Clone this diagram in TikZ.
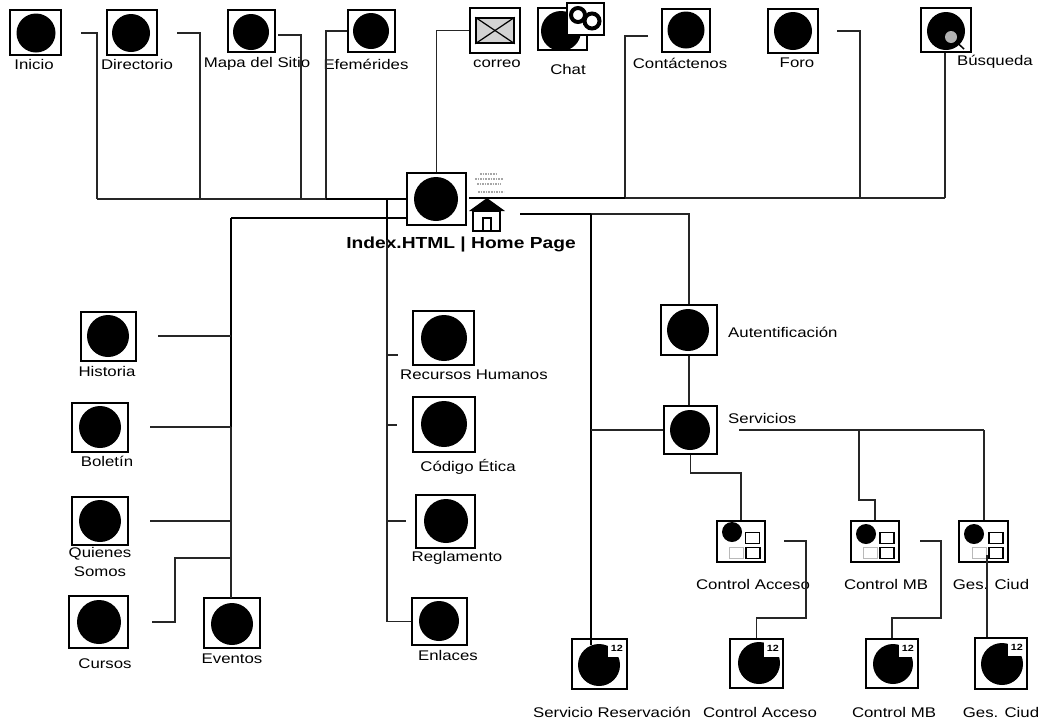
\documentclass[tikz,border=0pt]{standalone}
\usepackage{fontspec}
\setmainfont[FakeStretch=1.2]{Liberation Sans}
\usetikzlibrary{positioning}

\begin{document}
\begin{tikzpicture}[
	x=1pt, y=-1pt,
	pagebox/.style={rectangle, draw=black, line width=1.4pt, fill=white, inner sep=0pt},
	ball/.style={circle, fill=black, inner sep=0pt},
	label/.style={font=\fontsize{14}{16}\selectfont, inner sep=0pt, align=center},
	tile/.style={rectangle, draw=black, line width=1.8pt, fill=white, minimum width=14, minimum height=11, inner sep=0pt},
	palecell/.style={tile, draw=gray!55, line width=1.5pt},
	badge/.style={rectangle, fill=white, minimum width=18, minimum height=17, inner sep=0pt, font=\fontsize{9}{9}\bfseries\selectfont},
	link/.style={draw=black!85, line width=1.3pt},
	trunk/.style={draw=black, line width=2.8pt}
	]
	\useasboundingbox (0,0) rectangle (1040,721);

	% Top row
	\node[pagebox, minimum width=51, minimum height=45] (inicio) at (35.5,32.5) {};
	\node[ball, minimum size=39] (inicio-ball) at (36,33) {};
	\node[label] (inicio-text) at (34,64) {Inicio};
	\node[pagebox, minimum width=50, minimum height=45] (directorio) at (132,32.5) {};
	\node[ball, minimum size=38] (directorio-ball) at (131,33) {};
	\node[label] (directorio-text) at (137,64) {Directorio};
	\node[pagebox, minimum width=47, minimum height=42] (mapa) at (251.5,31) {};
	\node[ball, minimum size=36] (mapa-ball) at (251,32) {};
	\node[label] (mapa-text) at (257,64) {Mapa del Sitio};
	\node[pagebox, minimum width=47, minimum height=42] (efemerides) at (371.5,31) {};
	\node[ball, minimum size=36] (efemerides-ball) at (371,31) {};
	\node[label] (efemerides-text) at (366,64) {Efemérides};
	\node[pagebox, minimum width=50, minimum height=45] (correo) at (495,30.5) {};
	\node[rectangle, draw=black, line width=1.5pt, fill=gray!35, minimum width=38, minimum height=25] (correo-env) at (495,30.5) {};
	\draw[black, line width=1.2pt] (correo-env.north west) -- (correo-env.center) -- (correo-env.north east);
	\draw[black, line width=1.2pt] (correo-env.south west) -- (correo-env.center) -- (correo-env.south east);
	\node[label] (correo-text) at (497,64) {correo};
	\node[pagebox, minimum width=49, minimum height=42] (chat) at (562.5,29) {};
	\node[ball, minimum size=40] (chat-ball) at (561,31) {};
	\node[pagebox, minimum width=37, minimum height=32] (chat-over) at (585.5,19) {};
	\node[circle, draw=black, line width=4pt, minimum size=14, inner sep=0pt] (chat-a) at (578,15) {};
	\node[circle, draw=black, line width=4pt, minimum size=15, inner sep=0pt] (chat-b) at (592,21) {};
	\node[label] (chat-text) at (568,69) {Chat};
	\node[pagebox, minimum width=48, minimum height=43] (contacto) at (686,30.5) {};
	\node[ball, minimum size=37] (contacto-ball) at (686,30) {};
	\node[label] (contacto-text) at (680,63) {Contáctenos};
	\node[pagebox, minimum width=50, minimum height=44] (foro) at (793,31) {};
	\node[ball, minimum size=38] (foro-ball) at (793,31) {};
	\node[label] (foro-text) at (797,63) {Foro};
	\node[pagebox, minimum width=50, minimum height=44] (busqueda) at (946,30) {};
	\node[ball, minimum size=38] (busqueda-ball) at (946,31) {};
	\node[circle, fill=gray!60, minimum size=12, inner sep=0pt] (busqueda-lens) at (951,37) {};
	\coordinate (busqueda-tip) at (964,49);
	\draw[black, line width=1.5pt] (busqueda-lens) -- (busqueda-tip);
	\node[label] (busqueda-text) at (995,62) {Búsqueda};

	% Home page
	\node[pagebox, minimum width=59, minimum height=52] (hub) at (436.5,199) {};
	\node[ball, minimum size=44] (hub-ball) at (436,199) {};
	\node[label, font=\fontsize{16}{18}\bfseries\selectfont] (hub-text) at (461,244) {Index.HTML | Home Page};
	\draw[gray!70, line width=1.6pt, densely dotted] (480,174) -- (498,174);
	\draw[gray!70, line width=1.6pt, densely dotted] (475,179) -- (503,179);
	\draw[gray!70, line width=1.6pt, densely dotted] (477,184) -- (501,184);
	\draw[gray!70, line width=1.6pt, densely dotted] (478,192) -- (504,192);
	\fill[black] (469,211) -- (487,198) -- (505,211) -- cycle;
	\draw[black, line width=1.2pt] (473,211) rectangle (500,231);
	\draw[black, line width=1.2pt] (483,231) -- (483,218) -- (491,218) -- (491,231);

	% Left branch
	\node[pagebox, minimum width=55, minimum height=49] (historia) at (108.5,336.5) {};
	\node[ball, minimum size=42] (historia-ball) at (108,336) {};
	\node[label] (historia-text) at (107,371) {Historia};
	\node[pagebox, minimum width=56, minimum height=49] (boletin) at (100,427.5) {};
	\node[ball, minimum size=42] (boletin-ball) at (100,427) {};
	\node[label] (boletin-text) at (107,461) {Boletín};
	\node[pagebox, minimum width=56, minimum height=48] (quienes) at (100,521) {};
	\node[ball, minimum size=42] (quienes-ball) at (100,521) {};
	\node[label] (quienes-text) at (100,561.5) {Quienes\\[3pt]Somos};
	\node[pagebox, minimum width=59, minimum height=52] (cursos) at (98.5,622) {};
	\node[ball, minimum size=44] (cursos-ball) at (99,622) {};
	\node[label] (cursos-text) at (105,664) {Cursos};
	\node[pagebox, minimum width=56, minimum height=50] (eventos) at (232,623) {};
	\node[ball, minimum size=42] (eventos-ball) at (232,624) {};
	\node[label] (eventos-text) at (232,659) {Eventos};

	% Middle branch
	\node[pagebox, minimum width=61, minimum height=54] (recursos) at (443.5,338) {};
	\node[ball, minimum size=46] (recursos-ball) at (444,338) {};
	\node[label] (recursos-text) at (474,375) {Recursos Humanos};
	\node[pagebox, minimum width=62, minimum height=55] (codigo) at (444,424.5) {};
	\node[ball, minimum size=46] (codigo-ball) at (444,424) {};
	\node[label] (codigo-text) at (468,467) {Código Ética};
	\node[pagebox, minimum width=59, minimum height=53] (reglamento) at (445.5,521.5) {};
	\node[ball, minimum size=44] (reglamento-ball) at (446,521) {};
	\node[label] (reglamento-text) at (457,558) {Reglamento};
	\node[pagebox, minimum width=55, minimum height=47] (enlaces) at (439.5,621.5) {};
	\node[ball, minimum size=40] (enlaces-ball) at (439,621) {};
	\node[label] (enlaces-text) at (448,655) {Enlaces};

	% Right branch
	\node[pagebox, minimum width=56, minimum height=50] (autent) at (689,330) {};
	\node[ball, minimum size=42] (autent-ball) at (688,330) {};
	\node[label, anchor=west] (autent-text) at (728,332) {Autentificación};
	\node[pagebox, minimum width=53, minimum height=48] (servicios) at (690.5,430) {};
	\node[ball, minimum size=40] (servicios-ball) at (690,430) {};
	\node[label, anchor=west] (servicios-text) at (728,418) {Servicios};

	% Panels
	\node[pagebox, minimum width=48, minimum height=41] (panela) at (741,541.5) {};
	\node[ball, minimum size=20] (panela-ball) at (732,532) {};
	\node[tile] (panela-t1) at (752.5,538) {};
	\node[tile] (panela-t2) at (753,553) {};
	\node[palecell] (panela-t3) at (736.5,553) {};
	\node[label] (panela-text) at (753,584) {Control Acceso};
	\node[pagebox, minimum width=48, minimum height=41] (panelb) at (875,541.5) {};
	\node[ball, minimum size=20] (panelb-ball) at (866,534) {};
	\node[tile] (panelb-t1) at (887,538) {};
	\node[tile] (panelb-t2) at (887,553) {};
	\node[palecell] (panelb-t3) at (870.5,553) {};
	\node[label] (panelb-text) at (886,584) {Control MB};
	\node[pagebox, minimum width=49, minimum height=41] (panelc) at (983.5,541.5) {};
	\node[ball, minimum size=20] (panelc-ball) at (974,534) {};
	\node[tile] (panelc-t1) at (996,538) {};
	\node[tile] (panelc-t2) at (996,553) {};
	\node[palecell] (panelc-t3) at (979.5,553) {};
	\node[label] (panelc-text) at (991,584) {Ges. Ciud};

	% Bottom row
	\node[pagebox, minimum width=55, minimum height=50] (reserva) at (599.5,664) {};
	\node[ball, minimum size=42] (reserva-ball) at (599,665) {};
	\node[badge, anchor=north east] (reserva-badge) at (626,640) {12};
	\node[label] (reserva-text) at (612,712) {Servicio Reservación};
	\node[pagebox, minimum width=53, minimum height=49] (accesob) at (756.5,663.5) {};
	\node[ball, minimum size=42] (accesob-ball) at (759,663) {};
	\node[badge, anchor=north east] (accesob-badge) at (782,640) {12};
	\node[label] (accesob-text) at (760,712) {Control Acceso};
	\node[pagebox, minimum width=52, minimum height=49] (mbb) at (892,663.5) {};
	\node[ball, minimum size=40] (mbb-ball) at (893,664) {};
	\node[badge, anchor=north east] (mbb-badge) at (917,640) {12};
	\node[label] (mbb-text) at (894,712) {Control MB};
	\node[pagebox, minimum width=52, minimum height=51] (gesb) at (1001,663.5) {};
	\node[ball, minimum size=42] (gesb-ball) at (1002,664) {};
	\node[badge, anchor=north east] (gesb-badge) at (1026,639) {12};
	\node[label] (gesb-text) at (1001,712) {Ges. Ciud};

	% Free ends and joints
	\coordinate (inicio-end) at (81,33);
	\coordinate (directorio-end) at (177,33);
	\coordinate (mapa-end) at (278,35);
	\coordinate (contacto-end) at (648,36);
	\coordinate (foro-end) at (837,31);
	\coordinate (bus-a) at (97,199);
	\coordinate (bus-b) at (200,199);
	\coordinate (bus-c) at (301,199);
	\coordinate (bus-d) at (326,199);
	\coordinate (bus-e) at (387,199);
	\coordinate (bus-f) at (469,198);
	\coordinate (bus-g) at (625,198);
	\coordinate (bus-h) at (860,198);
	\coordinate (bus-i) at (945,198);
	\coordinate (lead-l) at (231,218);
	\coordinate (lead-r) at (520,214);
	\coordinate (lead-c) at (591,214);
	\coordinate (left-mid) at (231,427);
	\coordinate (left-base) at (231,598);
	\coordinate (left-h) at (231,336);
	\coordinate (left-q) at (231,521);
	\coordinate (left-c) at (231,558);
	\coordinate (mid-top) at (387,240);
	\coordinate (mid-a) at (387,355);
	\coordinate (mid-b) at (387,425);
	\coordinate (mid-c) at (387,521);
	\coordinate (stub-a) at (398,355);
	\coordinate (stub-b) at (397,425);
	\coordinate (stub-c) at (406,521);
	\coordinate (right-s) at (591,430);
	\coordinate (right-base) at (591,645);
	\coordinate (historia-end) at (158,336);
	\coordinate (boletin-end) at (150,427);
	\coordinate (quienes-end) at (150,521);
	\coordinate (cursos-end) at (152,622);
	\coordinate (cursos-up) at (175,558);
	\coordinate (serv-end) at (739,430);
	\coordinate (serv-b) at (859,430);
	\coordinate (serv-c) at (984,430);
	\coordinate (serv-bb) at (859,500);
	\coordinate (serv-a) at (691,473);
	\coordinate (panela-end) at (784,541);
	\coordinate (panela-r) at (806,618);
	\coordinate (panelb-end) at (920,541);
	\coordinate (panelb-r) at (941,618);
	\coordinate (panelc-low) at (987,555);

	% Top connectors
	\draw[link] (inicio-end) -| (bus-a);
	\draw[link] (directorio-end) -| (bus-b);
	\draw[link] (mapa-end) -| (bus-c);
	\draw[link] (efemerides.west) -| (bus-d);
	\draw[link] (correo.west) -| (hub.north);
	\draw[link] (contacto-end) -| (bus-g);
	\draw[link] (foro-end) -| (bus-h);
	\draw[link] (busqueda.south -| bus-i) -- (bus-i);
	\draw[link] (bus-a) -- (bus-d);
	\draw[trunk, line width=1.9pt] (bus-d) -- (hub.west);
	\draw[trunk, line width=2.2pt] (bus-f) -- (bus-g);
	\draw[link, line width=1.5pt] (bus-g) -- (bus-i);

	% Left connectors
	\draw[trunk, line width=1.9pt] (lead-l) -- (lead-l -| hub.west);
	\draw[trunk] (lead-l) -- (left-mid);
	\draw[link, line width=1.5pt] (left-mid) -- (left-base);
	\draw[link] (historia-end) -- (left-h);
	\draw[link] (boletin-end) -- (left-mid);
	\draw[link] (quienes-end) -- (left-q);
	\draw[link] (cursos-end) -| (cursos-up) -- (left-c);

	% Middle connectors
	\draw[trunk, line width=2.2pt] (bus-e) -- (mid-top);
	\draw[link, line width=1.5pt] (mid-top) |- (enlaces.west);
	\draw[link] (mid-a) -- (stub-a);
	\draw[link, line width=1.6pt] (mid-b) -- (stub-b);
	\draw[link] (mid-c) -- (stub-c);

	% Right connectors
	\draw[trunk, line width=1.9pt] (lead-r) -- (lead-c);
	\draw[link, line width=1.5pt] (lead-c) -| (autent.north);
	\draw[trunk] (lead-c) -- (right-base);
	\draw[link] (right-s) -- (servicios.west);
	\draw[link] (autent.south) -- (autent.south |- servicios.north);
	\draw[link] (servicios.south) |- (serv-a) -| (panela.north);
	\draw[link] (serv-end) -- (serv-c);
	\draw[link] (serv-c) -- (serv-c |- panelc.north);
	\draw[link] (serv-b) -- (serv-bb) -| (panelb.north);
	\draw[link] (panela-end) -| (panela-r) -| (accesob.north);
	\draw[link] (panelb-end) -| (panelb-r) -| (mbb.north);
	\draw[link] (panelc-low) -- (panelc-low |- gesb.north);
\end{tikzpicture}
\end{document}
